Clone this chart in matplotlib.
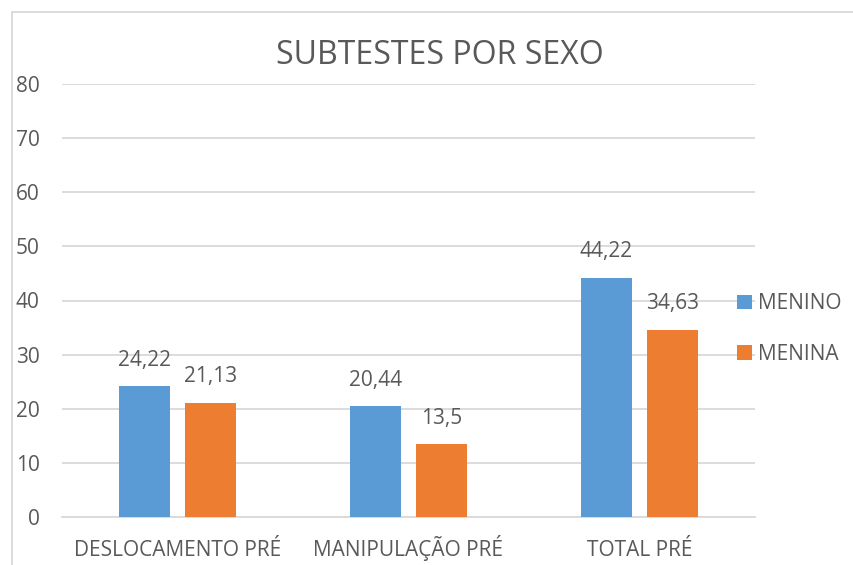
import matplotlib
matplotlib.use("Agg")
import matplotlib.pyplot as plt
from matplotlib.lines import Line2D
import numpy as np

categories = ["DESLOCAMENTO PRÉ", "MANIPULAÇÃO PRÉ", "TOTAL PRÉ"]
menino = [24.22, 20.44, 44.22]
menina = [21.13, 13.5, 34.63]
series_names = ["MENINO", "MENINA"]
yticks = [0, 10, 20, 30, 40, 50, 60, 70, 80]

plt.rcParams['font.family'] = ['Open Sans', 'DejaVu Sans']
txt = '#595959'
fs = 15

fig = plt.figure(figsize=(8.54, 5.65), dpi=100)
ax = fig.add_axes([62/854, 48/565, 693/854, 433/565])

x = np.arange(len(categories))
w = 0.22
off = 0.143
b1 = ax.bar(x - off, menino, w, color='#5B9BD5', label=series_names[0], zorder=3)
b2 = ax.bar(x + off, menina, w, color='#ED7D31', label=series_names[1], zorder=3)

def fmt(v):
    s = f"{v:.2f}".rstrip('0').rstrip('.')
    return s.replace('.', ',')

for bars, vals in ((b1, menino), (b2, menina)):
    for b, v in zip(bars, vals):
        ax.annotate(fmt(v), (b.get_x() + b.get_width()/2, v), xytext=(0, 11),
                    textcoords='offset points', ha='center', va='bottom',
                    fontsize=fs, color=txt)

ax.set_xlim(-0.5, 2.5)
ax.set_ylim(0, 80)
ax.set_yticks(yticks)
ax.set_yticklabels([str(t) for t in yticks], fontsize=fs, color=txt)
ax.set_xticks(x)
ax.set_xticklabels(categories, fontsize=fs, color=txt)
for lbl in ax.get_xticklabels():
    lbl.set_va('baseline')
ax.tick_params(length=0)
ax.tick_params(axis='y', pad=16)
ax.tick_params(axis='x', pad=28)
ax.yaxis.grid(True, color='#D9D9D9', linewidth=1.3, zorder=0)
for s in ax.spines.values():
    s.set_visible(False)
ax.spines['bottom'].set_visible(True)
ax.spines['bottom'].set_color('#D9D9D9')
ax.spines['bottom'].set_linewidth(1.3)

fig.text(440/854, 1 - 56/565, "SUBTESTES POR SEXO", ha='center', va='center',
         fontsize=23, color=txt)

leg = fig.legend(handles=[b1, b2], labels=series_names, loc='center left',
                 bbox_to_anchor=(729/854, 1 - 329/565), frameon=False,
                 fontsize=fs, labelcolor=txt, handlelength=0.7, handleheight=0.7,
                 handletextpad=0.3, labelspacing=1.4, borderaxespad=0)

fig.add_artist(Line2D([12/854, 12/854], [0, 1 - 12/565], transform=fig.transFigure,
                      color='#D9D9D9', linewidth=1.3))
fig.add_artist(Line2D([12/854, 1], [1 - 12/565, 1 - 12/565], transform=fig.transFigure,
                      color='#D9D9D9', linewidth=1.3))

fig.savefig("out.png", dpi=100)
